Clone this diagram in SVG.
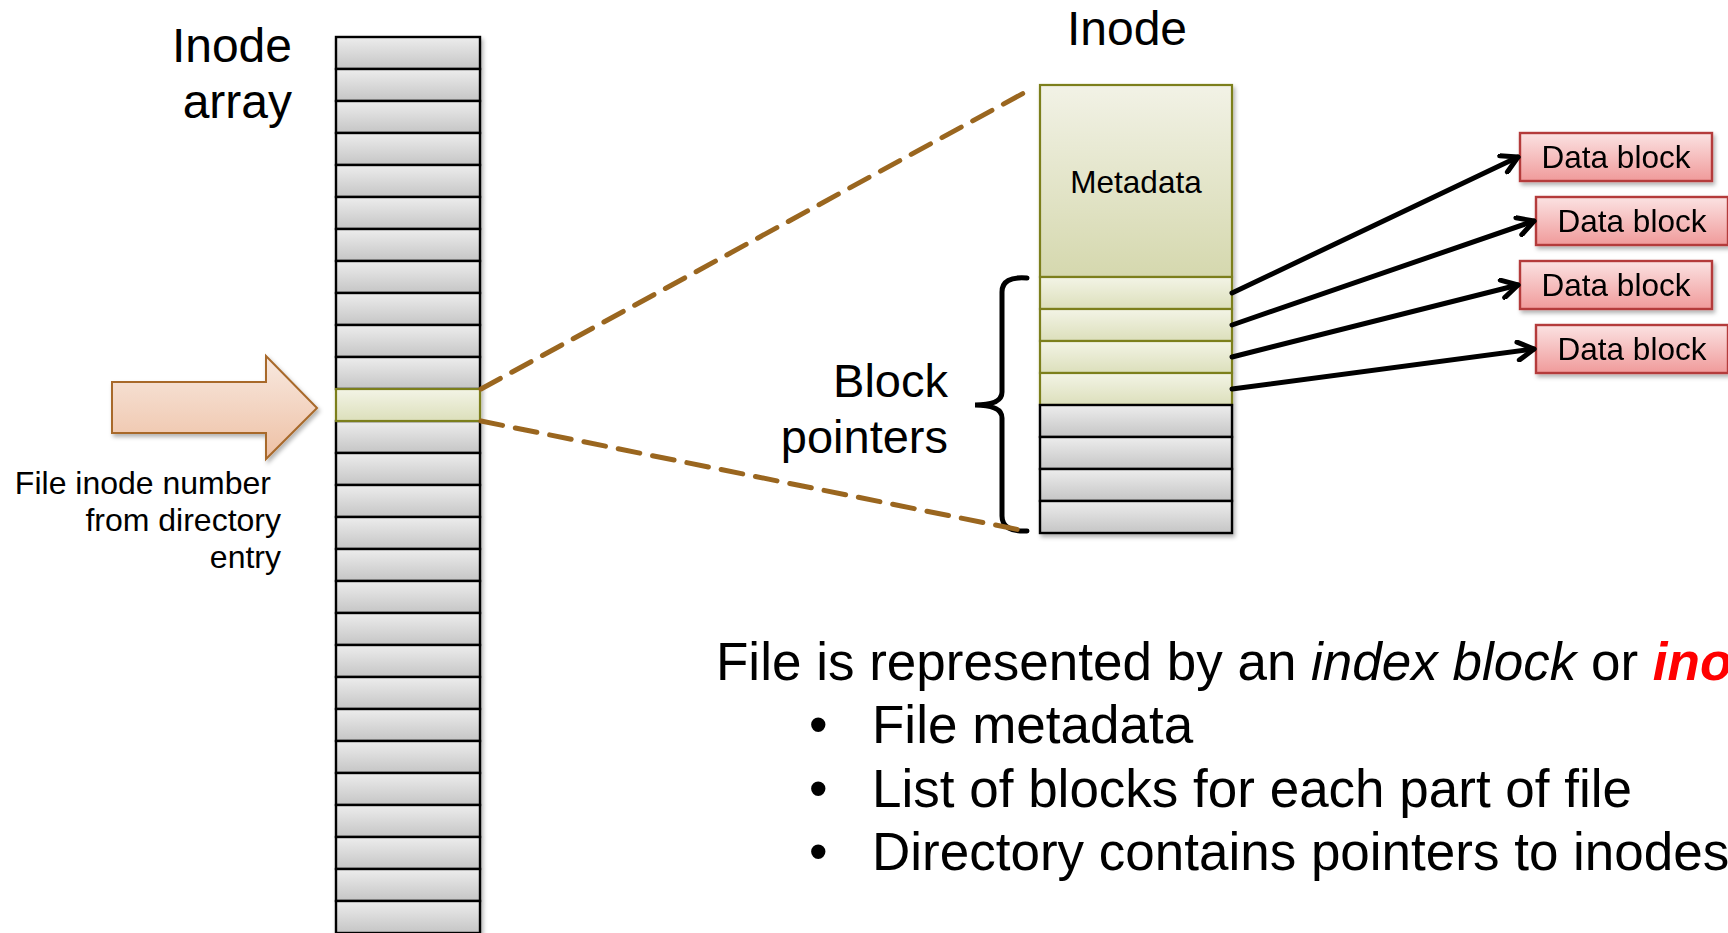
<svg xmlns="http://www.w3.org/2000/svg" width="1728" height="933" viewBox="0 0 1728 933">
<style>
text{font-family:"Liberation Sans",Arial,sans-serif;fill:#000}
.cell{fill:url(#gGray);stroke:#000;stroke-width:2.4}
.sel{fill:url(#gGreen);stroke:#7b7f1f;stroke-width:2.2}
.data{fill:url(#gRed);stroke:#b43a3a;stroke-width:2.4}
.dtext{font-size:31.5px;text-anchor:middle}
.ptr{stroke:#000;stroke-width:5;fill:none;stroke-linecap:round;marker-end:url(#arr)}
.dash{stroke:#9a661f;stroke-width:5;fill:none;stroke-dasharray:22 13;stroke-linecap:round}
.big{font-size:53px}
</style>
<defs>
<linearGradient id="gGray" x1="0" y1="0" x2="0" y2="1"><stop offset="0" stop-color="#ededed"/><stop offset="1" stop-color="#c5c5c5"/></linearGradient>
<linearGradient id="gGreen" x1="0" y1="0" x2="0" y2="1"><stop offset="0" stop-color="#f3f4e6"/><stop offset="1" stop-color="#dcdfbb"/></linearGradient>
<linearGradient id="gMeta" x1="0" y1="0" x2="0" y2="1"><stop offset="0" stop-color="#f2f2e6"/><stop offset="1" stop-color="#d5d8ae"/></linearGradient>
<linearGradient id="gRed" x1="0" y1="0" x2="0" y2="1"><stop offset="0" stop-color="#fbe2e2"/><stop offset="1" stop-color="#f09a9a"/></linearGradient>
<linearGradient id="gPeach" x1="0" y1="0" x2="0" y2="1"><stop offset="0" stop-color="#f8e9e0"/><stop offset="1" stop-color="#eec0a4"/></linearGradient>
<filter id="sh" x="-10%" y="-10%" width="130%" height="130%"><feDropShadow dx="2" dy="3" stdDeviation="2" flood-color="#000" flood-opacity="0.3"/></filter>
<marker id="arr" viewBox="0 0 22 22" refX="19" refY="11" markerWidth="22" markerHeight="22" markerUnits="userSpaceOnUse" orient="auto"><path d="M3,2 L19,11 L3,20" fill="none" stroke="#000" stroke-width="5" stroke-linecap="round" stroke-linejoin="round"/></marker>
</defs>
<rect width="1728" height="933" fill="#fff"/>

<g id="inode-array-label">
<text x="292" y="62" font-size="48" text-anchor="end">Inode</text>
<text x="292" y="118" font-size="48" text-anchor="end">array</text>
</g>

<g id="inode-array" filter="url(#sh)">
<rect class="cell" x="336" y="37" width="144" height="32"/>
<rect class="cell" x="336" y="69" width="144" height="32"/>
<rect class="cell" x="336" y="101" width="144" height="32"/>
<rect class="cell" x="336" y="133" width="144" height="32"/>
<rect class="cell" x="336" y="165" width="144" height="32"/>
<rect class="cell" x="336" y="197" width="144" height="32"/>
<rect class="cell" x="336" y="229" width="144" height="32"/>
<rect class="cell" x="336" y="261" width="144" height="32"/>
<rect class="cell" x="336" y="293" width="144" height="32"/>
<rect class="cell" x="336" y="325" width="144" height="32"/>
<rect class="cell" x="336" y="357" width="144" height="32"/>
<rect class="cell" x="336" y="421" width="144" height="32"/>
<rect class="cell" x="336" y="453" width="144" height="32"/>
<rect class="cell" x="336" y="485" width="144" height="32"/>
<rect class="cell" x="336" y="517" width="144" height="32"/>
<rect class="cell" x="336" y="549" width="144" height="32"/>
<rect class="cell" x="336" y="581" width="144" height="32"/>
<rect class="cell" x="336" y="613" width="144" height="32"/>
<rect class="cell" x="336" y="645" width="144" height="32"/>
<rect class="cell" x="336" y="677" width="144" height="32"/>
<rect class="cell" x="336" y="709" width="144" height="32"/>
<rect class="cell" x="336" y="741" width="144" height="32"/>
<rect class="cell" x="336" y="773" width="144" height="32"/>
<rect class="cell" x="336" y="805" width="144" height="32"/>
<rect class="cell" x="336" y="837" width="144" height="32"/>
<rect class="cell" x="336" y="869" width="144" height="32"/>
<rect class="cell" x="336" y="901" width="144" height="32"/>
<rect class="sel" x="336" y="389" width="144" height="32"/>
</g>

<g id="entry-arrow">
<polygon points="112,382 266,382 266,356 317,408 266,459 266,433 112,433" fill="url(#gPeach)" stroke="#a8692b" stroke-width="2" filter="url(#sh)"/>
<text x="271" y="494" font-size="32" text-anchor="end">File inode number</text>
<text x="281" y="531" font-size="32" text-anchor="end">from directory</text>
<text x="281" y="568" font-size="32" text-anchor="end">entry</text>
</g>

<g id="inode">
<text x="1127" y="45" font-size="48" text-anchor="middle">Inode</text>
<g filter="url(#sh)">
<rect x="1040" y="85" width="192" height="192" fill="url(#gMeta)" stroke="#7b7f1f" stroke-width="2.2"/>
<rect class="sel" x="1040" y="277" width="192" height="32"/>
<rect class="sel" x="1040" y="309" width="192" height="32"/>
<rect class="sel" x="1040" y="341" width="192" height="32"/>
<rect class="sel" x="1040" y="373" width="192" height="32"/>
<rect class="cell" x="1040" y="405" width="192" height="32"/>
<rect class="cell" x="1040" y="437" width="192" height="32"/>
<rect class="cell" x="1040" y="469" width="192" height="32"/>
<rect class="cell" x="1040" y="501" width="192" height="32"/>
</g>
<text x="1136" y="193" font-size="31.5" text-anchor="middle">Metadata</text>
</g>

<g id="block-pointers-label">
<path d="M1027,278 Q1002,276 1002,292 L1002,392 Q1002,405 975,405 Q1002,405 1002,418 L1002,516 Q1002,532 1027,531" fill="none" stroke="#000" stroke-width="5" stroke-linecap="round"/>
<text x="948" y="397" font-size="47" text-anchor="end">Block</text>
<text x="948" y="453" font-size="47" text-anchor="end">pointers</text>
</g>

<g id="data-block-1" filter="url(#sh)"><rect class="data" x="1520" y="133" width="192" height="48"/><text class="dtext" x="1616" y="168">Data block</text></g>
<g id="data-block-2" filter="url(#sh)"><rect class="data" x="1536" y="197" width="192" height="48"/><text class="dtext" x="1632" y="232">Data block</text></g>
<g id="data-block-3" filter="url(#sh)"><rect class="data" x="1520" y="261" width="192" height="48"/><text class="dtext" x="1616" y="296">Data block</text></g>
<g id="data-block-4" filter="url(#sh)"><rect class="data" x="1536" y="325" width="192" height="48"/><text class="dtext" x="1632" y="360">Data block</text></g>

<g id="connectors">
<line class="dash" x1="481" y1="389" x2="1033" y2="88"/>
<line class="dash" x1="481" y1="421" x2="1025" y2="531"/>
<line class="ptr" x1="1232" y1="293" x2="1518" y2="157"/>
<line class="ptr" x1="1232" y1="325" x2="1534" y2="221"/>
<line class="ptr" x1="1232" y1="357" x2="1518" y2="285"/>
<line class="ptr" x1="1232" y1="389" x2="1534" y2="349"/>
</g>

<g id="description">
<text class="big" x="716" y="680">File is represented by an <tspan font-style="italic">index block</tspan> or <tspan font-style="italic" font-weight="bold" fill="#ff0000">inode</tspan></text>
<text class="big" x="809" y="743">•</text>
<text class="big" x="872" y="743">File metadata</text>
<text class="big" x="809" y="807">•</text>
<text class="big" x="872" y="807">List of blocks for each part of file</text>
<text class="big" x="809" y="870">•</text>
<text class="big" x="872" y="870">Directory contains pointers to inodes</text>
</g>
</svg>
